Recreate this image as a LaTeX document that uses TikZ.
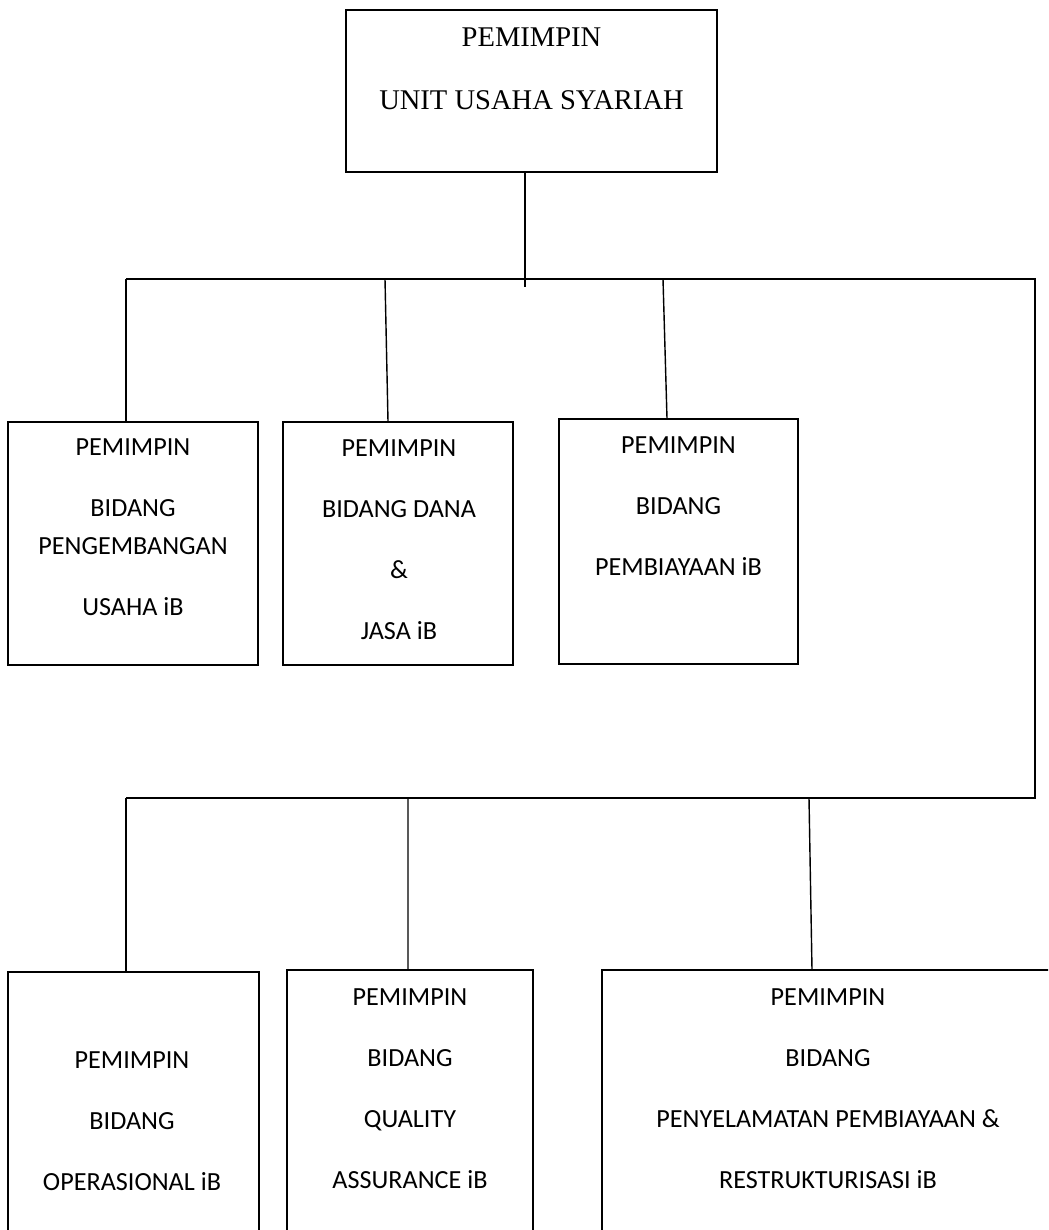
\documentclass[tikz,border=0pt]{standalone}
\usepackage{fontspec}
\setmainfont{Liberation Serif}
\newfontfamily\calibri{Carlito}
\begin{document}
\begin{tikzpicture}[x=0.025cm,y=-0.025cm,
    box/.style={draw,line width=1pt,inner sep=0pt},
    txt/.style={align=center,inner sep=0pt,font=\calibri\fontsize{18.6}{43.4}\selectfont}]
      \useasboundingbox (0,0) rectangle (1048,1230);
      \clip (0,0) rectangle (1048,1230);
      % boxes
      \node[box,minimum width=9.275cm,minimum height=4.05cm] (top) at (531.5,91) {};
      \node[box,minimum width=6.25cm,minimum height=6.075cm] (b1) at (133,543.5) {};
      \node[box,minimum width=5.75cm,minimum height=6.075cm] (b2) at (398,543.5) {};
      \node[box,minimum width=5.975cm,minimum height=6.125cm] (b3) at (678.5,541.5) {};
      \node[box,minimum width=6.275cm,minimum height=6.825cm] (b4) at (133.5,1108.5) {};
      \node[box,minimum width=6.15cm,minimum height=6.875cm] (b5) at (410,1107.5) {};
      \node[box,minimum width=11.45cm,minimum height=6.875cm] (b6) at (831,1107.5) {};
      % labels
      \node[align=center,inner sep=0pt,font=\fontsize{20.3}{44.8}\selectfont] (ttop) at (531.5,68.5)
        {PEMIMPIN\\UNIT USAHA SYARIAH};
      \node[txt] (t1) at (133,527) {PEMIMPIN\\BIDANG\\[-16.4pt]PENGEMBANGAN\\USAHA iB};
      \node[txt] (t2) at (399,539.5) {PEMIMPIN\\BIDANG DANA\\\&\\JASA iB};
      \node[txt] (t3) at (678.5,506) {PEMIMPIN\\BIDANG\\PEMBIAYAAN iB};
      \node[txt] (t4) at (132,1121) {PEMIMPIN\\BIDANG\\OPERASIONAL iB};
      \node[txt] (t5) at (410,1089) {PEMIMPIN\\BIDANG\\QUALITY\\ASSURANCE iB};
      \node[txt] (t6) at (828,1089) {PEMIMPIN\\BIDANG\\PENYELAMATAN PEMBIAYAAN \&\\RESTRUKTURISASI iB};
      % bus lines
      \coordinate (hub) at (525,287);
      \coordinate (busA) at (126,279);
      \coordinate (busB) at (1035,279);
      \coordinate (busC) at (1035,798);
      \coordinate (busD) at (126,798);
      \coordinate (d2) at (385,279);
      \coordinate (d3) at (663,279);
      \coordinate (d5) at (408,798);
      \coordinate (d6) at (809,798);
      \begin{scope}[line width=1pt]
        \draw (top.south -| hub) to (hub);
        \draw (busA) -- (busB) -- (busC) -- (busD);
        \draw (busA) to (b1.north -| busA);
        \draw (d2) to ([xshift=-0.25cm]b2.north);
        \draw (d3) to ([xshift=-0.2875cm]b3.north);
        \draw (busD) to (b4.north -| busD);
        \draw (d5) to ([xshift=-0.05cm]b5.north);
        \draw (d6) to ([xshift=-0.475cm]b6.north);
      \end{scope}
    \end{tikzpicture}
\end{document}
